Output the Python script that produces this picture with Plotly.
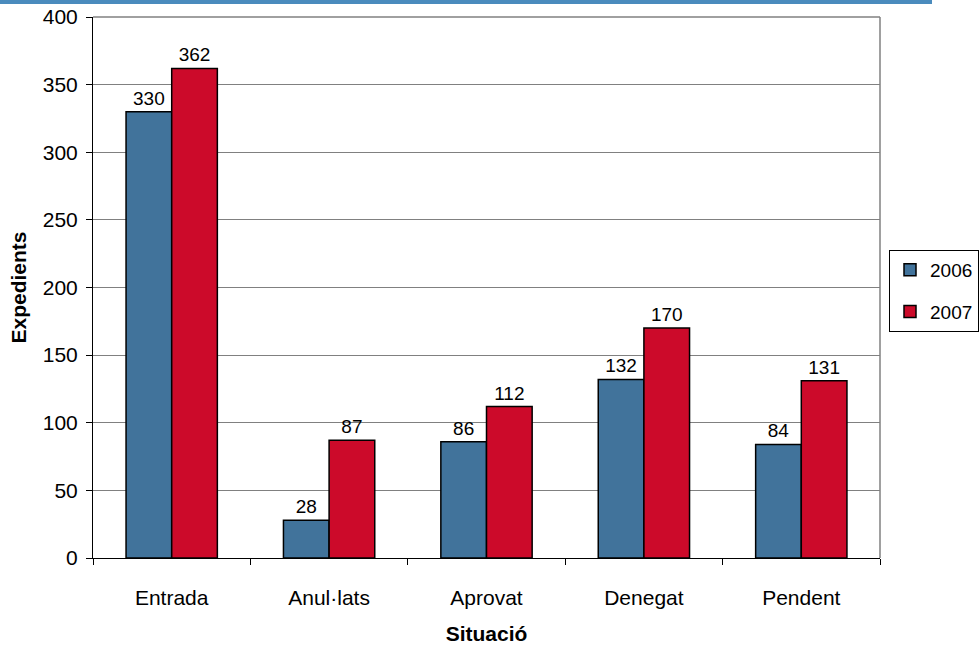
import plotly.graph_objects as go

categories = ["Entrada", "Anul·lats", "Aprovat", "Denegat", "Pendent"]
values_2006 = [330, 28, 86, 132, 84]
values_2007 = [362, 87, 112, 170, 131]
series_names = ["2006", "2007"]

L, R, T, B = 93, 100, 17, 87
W, H = 980, 645
pw, ph = W - L - R, H - T - B

FAMILY = "Liberation Sans, Arial, sans-serif"
tick_font = dict(family=FAMILY, size=21, color="black")
label_font = dict(family=FAMILY, size=19, color="black")

fig = go.Figure()
for name, vals, color in [(series_names[0], values_2006, "#41739b"),
                          (series_names[1], values_2007, "#cc0a2a")]:
    fig.add_trace(go.Bar(
        name=name, x=categories, y=vals, legendgroup=name,
        marker=dict(color=color, line=dict(color="black", width=1.5)),
        text=[str(v) for v in vals], textposition="outside",
        textfont=label_font, cliponaxis=False,
    ))

fig.update_layout(
    width=W, height=H,
    margin=dict(l=L, r=R, t=T, b=B, autoexpand=False),
    paper_bgcolor="white", plot_bgcolor="white",
    font=tick_font,
    barmode="group", bargap=0.42, bargroupgap=0,
    showlegend=True,
    legend=dict(xref="container", yref="container",
                x=889 / W, y=1 - 250 / H, xanchor="left", yanchor="top",
                bordercolor="black", borderwidth=1, bgcolor="white",
                font=label_font, tracegroupgap=14, itemwidth=30),
    xaxis=dict(
        title=dict(text="<b>Situació</b>", font=tick_font, standoff=18),
        showline=True, linecolor="black", linewidth=1,
        ticks="outside", tickson="boundaries", ticklen=6, tickcolor="black",
        ticklabelstandoff=21,
        showgrid=False, automargin=False,
    ),
    yaxis=dict(
        title=dict(text="<b>Expedients</b>", font=tick_font, standoff=10),
        range=[0, 400], dtick=50,
        showline=True, linecolor="black", linewidth=1,
        ticks="outside", ticklen=6, tickcolor="black",
        ticklabelstandoff=4,
        showgrid=True, gridcolor="#808080", gridwidth=1,
        zeroline=False, automargin=False,
    ),
    shapes=[
        # frame on the top and right of the plotting area
        dict(type="line", xref="paper", yref="paper", x0=0, x1=1, y0=1, y1=1,
             line=dict(color="#808080", width=1.5)),
        dict(type="line", xref="paper", yref="paper", x0=1, x1=1, y0=0, y1=1,
             line=dict(color="#808080", width=1.5)),
        # header rule across the top of the page
        dict(type="rect", xref="paper", yref="paper",
             x0=-L / pw, x1=(932 - L) / pw, y0=(558 - 4) / ph, y1=558 / ph,
             fillcolor="#4a8bbd", line=dict(width=0), layer="above"),
    ],
)

fig.write_html("out.html")
